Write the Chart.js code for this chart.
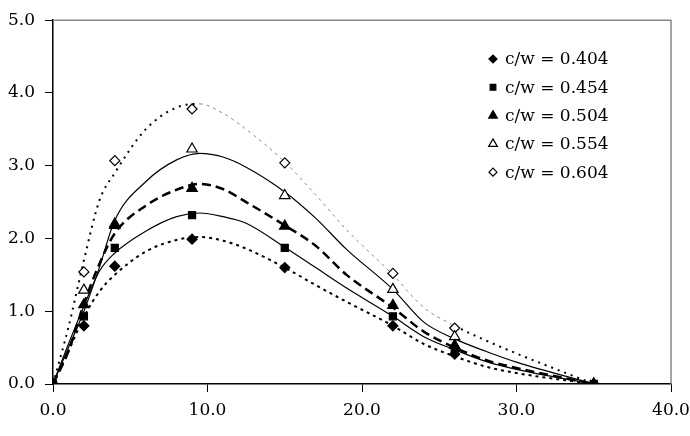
<!DOCTYPE html>
<html>
<head>
<meta charset="utf-8">
<script src="https://cdn.jsdelivr.net/npm/chart.js@4"></script>
<style>
  html, body { margin: 0; padding: 0; background: #fff; }
  #wrap { width: 690px; height: 436px; }
</style>
</head>
<body>
<div id="wrap"><canvas id="chart"></canvas></div>
<script>
// Measured points (markers)
const markerX = [0, 2, 4, 9, 15, 22, 26, 35];
const cw404 = [0, 0.80, 1.62, 1.99, 1.60, 0.80, 0.41, 0];
const cw454 = [0, 0.93, 1.87, 2.32, 1.87, 0.93, 0.48, 0];
const cw504 = [0, 1.09, 2.18, 2.69, 2.17, 1.08, 0.53, 0];
const cw554 = [0, 1.29, 2.20, 3.23, 2.59, 1.30, 0.65, 0];
const cw604 = [0, 1.54, 3.07, 3.78, 3.04, 1.52, 0.77, 0];

// Fitted curves
const curveX = [0, 1, 2, 3, 4, 6, 8, 9.5, 11, 12.5, 15, 17, 19, 22, 24, 26, 28, 30, 35];
const fit404 = [0, 0.45, 0.92, 1.27, 1.50, 1.82, 1.98, 2.02, 1.97, 1.86, 1.60, 1.36, 1.13, 0.80, 0.55, 0.38, 0.24, 0.15, 0];
const fit454 = [0, 0.55, 1.07, 1.55, 1.80, 2.10, 2.30, 2.35, 2.30, 2.21, 1.88, 1.60, 1.32, 0.93, 0.65, 0.47, 0.31, 0.20, 0];
const fit504 = [0, 0.45, 1.10, 1.65, 2.07, 2.45, 2.67, 2.75, 2.68, 2.50, 2.18, 1.90, 1.50, 1.05, 0.72, 0.50, 0.33, 0.22, 0];
const fit554 = [0, 0.50, 1.00, 1.60, 2.25, 2.78, 3.08, 3.17, 3.12, 2.98, 2.64, 2.28, 1.85, 1.30, 0.85, 0.62, 0.45, 0.30, 0];
const fit604 = [0, 0.78, 1.70, 2.52, 2.90, 3.50, 3.80, 3.85, 3.72, 3.50, 3.05, 2.60, 2.12, 1.50, 1.05, 0.80, 0.60, 0.42, 0];

const labels = ['c/w = 0.404', 'c/w = 0.454', 'c/w = 0.504', 'c/w = 0.554', 'c/w = 0.604'];
const xTicks = [0, 10, 20, 30, 40];
const yTicks = [0, 1, 2, 3, 4, 5];

const FONT = '"DejaVu Serif", "Liberation Serif", serif';

function pts(xs, ys) {
    return xs.map((x, i) => ({ x: x, y: ys[i] }));
}

// marker styles for each series
const markerStyles = [
    { pointStyle: 'rectRot', radius: 5, bg: '#000', border: '#000' },
    { pointStyle: 'rect', radius: 5, bg: '#000', border: '#000' },
    { pointStyle: 'triangle', radius: 6, bg: '#000', border: '#000' },
    { pointStyle: 'triangle', radius: 6, bg: '#fff', border: '#000' },
    { pointStyle: 'rectRot', radius: 5, bg: '#fff', border: '#000' }
];
const markerData = [cw404, cw454, cw504, cw554, cw604];

const markerSets = markerData.map((ys, i) => ({
    type: 'scatter',
    label: labels[i],
    data: pts(markerX, ys),
    pointStyle: markerStyles[i].pointStyle,
    pointRadius: markerStyles[i].radius,
    pointBackgroundColor: markerStyles[i].bg,
    pointBorderColor: markerStyles[i].border,
    pointBorderWidth: 1.2,
    showLine: false
}));

function curve(ys, opts) {
    return Object.assign({
        type: 'line',
        data: pts(curveX, ys),
        pointRadius: 0,
        borderColor: '#000',
        borderWidth: 1.2,
        fill: false,
        cubicInterpolationMode: 'monotone'
    }, opts);
}

const curveSets = [
    curve(fit404, { borderDash: [3, 4], borderWidth: 2 }),
    curve(fit454, { borderWidth: 1.2 }),
    curve(fit504, { borderDash: [9, 5], borderWidth: 2.5 }),
    curve(fit554, { borderWidth: 1.2 }),
    curve(fit604, {
        borderDash: [2, 5], borderWidth: 2,
        segment: {
            borderColor: ctx => (ctx.p0.parsed.x >= 9.5 && ctx.p0.parsed.x < 26) ? '#888' : '#000',
            borderWidth: ctx => (ctx.p0.parsed.x >= 9.5 && ctx.p0.parsed.x < 26) ? 1 : 2,
            borderDash: ctx => (ctx.p0.parsed.x >= 9.5 && ctx.p0.parsed.x < 26) ? [3, 4] : [2, 5]
        }
    })
];

// gray frame on top and right
const framePlugin = {
    id: 'frame',
    afterDraw(chart) {
        const a = chart.chartArea;
        const ctx = chart.ctx;
        ctx.save();
        ctx.strokeStyle = '#888';
        ctx.lineWidth = 1.5;
        ctx.beginPath();
        ctx.moveTo(a.left, a.top);
        ctx.lineTo(a.right, a.top);
        ctx.lineTo(a.right, a.bottom);
        ctx.stroke();
        ctx.restore();
    }
};

// legend drawn inside the plot area
const legendPlugin = {
    id: 'insideLegend',
    afterDraw(chart) {
        const ctx = chart.ctx;
        const x0 = 493, y0 = 59, step = 28.3;
        ctx.save();
        ctx.font = '17px ' + FONT;
        ctx.fillStyle = '#000';
        ctx.textBaseline = 'middle';
        labels.forEach((txt, i) => {
            const y = y0 + i * step;
            const s = markerStyles[i];
            ctx.fillStyle = s.bg;
            ctx.strokeStyle = s.border;
            ctx.lineWidth = 1.2;
            Chart.helpers.drawPoint(ctx, {
                pointStyle: s.pointStyle,
                radius: s.radius - 1,
                rotation: 0,
                borderWidth: 1.2
            }, x0, y);
            ctx.fillStyle = '#000';
            ctx.fillText(txt, x0 + 12, y + 1);
        });
        ctx.restore();
    }
};

new Chart(document.getElementById('chart'), {
    data: { datasets: markerSets.concat(curveSets) },
    options: {
        responsive: true,
        maintainAspectRatio: false,
        animation: false,
        layout: { padding: { top: 19, right: 19, left: 0, bottom: 0 } },
        plugins: {
            legend: { display: false },
            tooltip: { enabled: false }
        },
        scales: {
            x: {
                type: 'linear',
                min: 0,
                max: 40,
                afterBuildTicks: scale => { scale.ticks = xTicks.map(v => ({ value: v })); },
                afterFit: scale => {
                    scale.height = 52;
                    scale.paddingLeft = 0;
                    scale.paddingRight = 0;
                },
                grid: { drawOnChartArea: false, drawTicks: true, tickLength: 8, color: '#000' },
                border: { color: '#000', width: 1.5 },
                ticks: {
                    color: '#000',
                    padding: 8,
                    font: { family: FONT, size: 17 },
                    callback: v => v.toFixed(1)
                }
            },
            y: {
                type: 'linear',
                min: 0,
                max: 5,
                afterBuildTicks: scale => { scale.ticks = yTicks.map(v => ({ value: v })); },
                afterFit: scale => { scale.width = 53; },
                grid: { drawOnChartArea: false, drawTicks: true, tickLength: 8, color: '#000' },
                border: { color: '#000', width: 1.5 },
                ticks: {
                    color: '#000',
                    padding: 10,
                    font: { family: FONT, size: 17 },
                    callback: v => v.toFixed(1)
                }
            }
        }
    },
    plugins: [framePlugin, legendPlugin]
});
</script>
</body>
</html>
